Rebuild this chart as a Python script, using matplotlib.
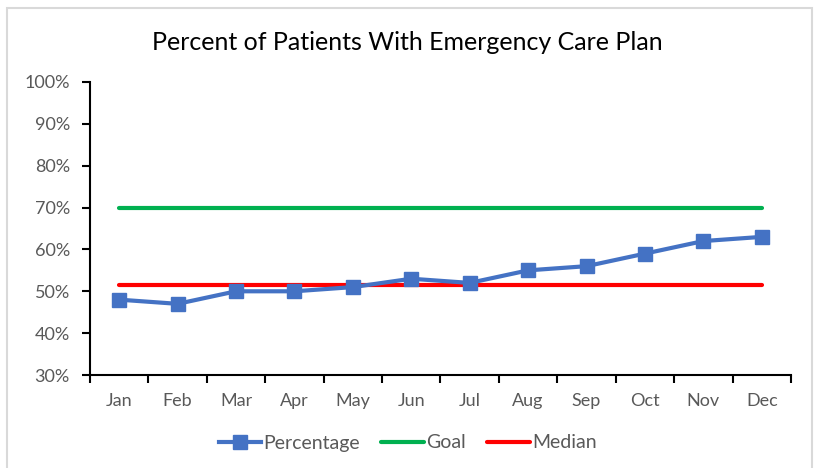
import matplotlib.pyplot as plt
from matplotlib.patches import Rectangle
from matplotlib.ticker import FuncFormatter, FixedLocator

months = ['Jan', 'Feb', 'Mar', 'Apr', 'May', 'Jun', 'Jul', 'Aug', 'Sep', 'Oct', 'Nov', 'Dec']
percentage = [48, 47, 50, 50, 51, 53, 52, 55, 56, 59, 62, 63]
goal = [70] * 12
median = [51.5] * 12

plt.rcParams['font.family'] = ['Lato', 'DejaVu Sans']

fig = plt.figure(figsize=(8.15, 4.68), dpi=100)
# light gray chart border like the spreadsheet chart area
fig.patches.append(Rectangle((7/815, -0.01), 805/815, 1 - 8/468 + 0.01, transform=fig.transFigure,
                             fill=False, edgecolor='#D9D9D9', linewidth=1.5))

ax = fig.add_axes([90/815, 1 - 375/468, 701/815, 293/468])
x = list(range(len(months)))
ax.plot(x, percentage, color='#4472C4', linewidth=3, marker='s', markersize=10, label='Percentage', zorder=3)
ax.plot(x, goal, color='#00B050', linewidth=3, solid_capstyle='round', label='Goal')
ax.plot(x, median, color='#FF0000', linewidth=3, solid_capstyle='round', label='Median')

ax.set_xlim(-0.5, len(months) - 0.5)
ax.set_ylim(30, 100)
ax.set_yticks(range(30, 101, 10))
ax.yaxis.set_major_formatter(FuncFormatter(lambda v, p: f'{v:.0f}%'))
ax.set_xticks(x)
ax.set_xticklabels(months)
ax.xaxis.set_minor_locator(FixedLocator([i - 0.5 for i in range(len(months) + 1)]))
ax.tick_params(axis='x', which='major', length=0, pad=13, labelsize=13, labelcolor='#595959')
ax.tick_params(axis='x', which='minor', length=6, width=1.5, color='black', direction='out')
ax.tick_params(axis='y', length=6, width=1.5, color='black', pad=8.5, labelsize=13, labelcolor='#595959')

for s in ['top', 'right']:
    ax.spines[s].set_visible(False)
for s in ['left', 'bottom']:
    ax.spines[s].set_linewidth(1.5)
    ax.spines[s].set_color('black')

fig.text(0.5, 1 - 42/468, 'Percent of Patients With Emergency Care Plan', ha='center', va='center',
         fontsize=18, color='black')

leg = fig.legend(loc='center', bbox_to_anchor=(0.5, 1 - 443/468), ncol=3, frameon=False,
                 fontsize=14, handlelength=2.2, handletextpad=0.1, columnspacing=1.1)
for t in leg.get_texts():
    t.set_color('#595959')

fig.savefig('out.png', dpi=100)
